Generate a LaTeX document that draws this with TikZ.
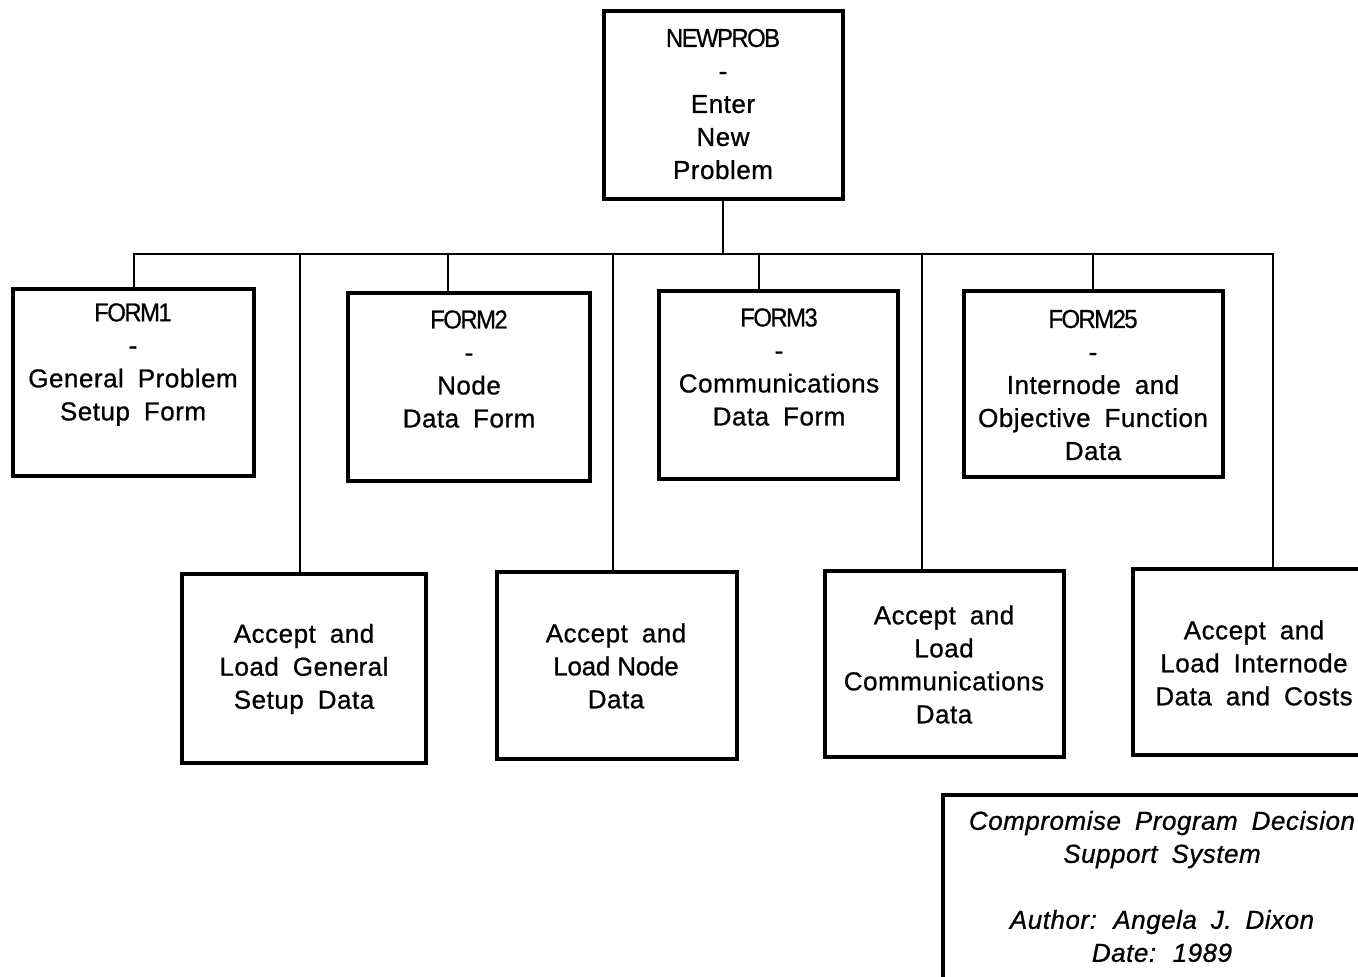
\documentclass[tikz,border=0pt]{standalone}
\usepackage{fontspec}
\setmainfont{Liberation Sans}[LetterSpace=2, WordSpace=1.8, FakeBold=0.8]
\newfontfamily\tightfont{Liberation Sans}[LetterSpace=-6, FakeStretch=0.92, FakeBold=0.6]
\newfontfamily\snugfont{Liberation Sans}[LetterSpace=-1, FakeBold=0.8]
\begin{document}
\begin{tikzpicture}[x=0.5pt, y=-0.5pt,
  box/.style={draw, line width=2pt, rectangle, inner sep=0pt},
  txt/.style={align=center, inner sep=0pt, font=\fontsize{13}{16.5}\selectfont},
  link/.style={line width=1.4pt, line join=miter}]
\useasboundingbox (0,0) rectangle (1358,976);
\clip (0,0) rectangle (1358,976);

% boxes (sizes given in pt = half the coordinate units)
\node[box, minimum width=119.5pt, minimum height=94pt]   (np)   at (723.5,105)  {};
\node[box, minimum width=120.5pt, minimum height=93.5pt] (f1)   at (133.5,382.5) {};
\node[box, minimum width=121pt,   minimum height=94pt]   (f2)   at (469,387)    {};
\node[box, minimum width=119.5pt, minimum height=94pt]   (f3)   at (778.5,385)  {};
\node[box, minimum width=129.5pt, minimum height=93pt]   (f25)  at (1093.5,384) {};
\node[box, minimum width=122pt,   minimum height=94.5pt] (a1)   at (304,668.5)  {};
\node[box, minimum width=120pt,   minimum height=93.5pt] (a2)   at (617,665.5)  {};
\node[box, minimum width=119.5pt, minimum height=93pt]   (a3)   at (944.5,664)  {};
\node[box, minimum width=121pt,   minimum height=93pt]   (a4)   at (1254,662)   {};
\node[box, minimum width=219pt,   minimum height=102.5pt] (info) at (1162,897.5) {};

% box texts
\node[txt] (tnp)  at (723,104)  {{\tightfont NEWPROB}\\-\\Enter\\New\\Problem};
\node[txt] (tf1)  at (133,364.5)  {{\tightfont FORM1}\\-\\General Problem\\Setup Form};
\node[txt] (tf2)  at (469,369)    {{\tightfont FORM2}\\-\\Node\\Data Form};
\node[txt] (tf3)  at (779,367)    {{\tightfont FORM3}\\-\\Communications\\Data Form};
\node[txt] (tf25) at (1093,385)   {{\tightfont FORM25}\\-\\Internode and\\Objective Function\\Data};
\node[txt] (ta1)  at (304,669)    {Accept and\\Load General\\Setup Data};
\node[txt] (ta2)  at (616,666)    {Accept and\\{\snugfont Load Node}\\Data};
\node[txt] (ta3)  at (944,664.5)  {Accept and\\Load\\Communications\\Data};
\node[txt] (ta4)  at (1254,663)   {Accept and\\Load Internode\\Data and Costs};
\node[txt, font=\fontsize{13}{16.5}\selectfont\itshape] (tinfo) at (1162,886.5)
  {Compromise Program Decision\\Support System\\[16.5pt]Author: Angela J. Dixon\\Date: 1989};

% bus and drop points
\coordinate (bus) at (723,254);
\coordinate (d0) at (134,254);
\coordinate (d1) at (300,254);
\coordinate (d2) at (448,254);
\coordinate (d3) at (613,254);
\coordinate (d4) at (759,254);
\coordinate (d5) at (922,254);
\coordinate (d6) at (1093,254);
\coordinate (d7) at (1273,254);

% connectors
\draw[link] (np.south -| bus) -- (bus);
\draw[link] (d0 |- f1.north) -- (d0) -- (d7) -- (d7 |- a4.north);
\draw[link] (d1) -- (d1 |- a1.north);
\draw[link] (d2) -- (d2 |- f2.north);
\draw[link] (d3) -- (d3 |- a2.north);
\draw[link] (d4) -- (d4 |- f3.north);
\draw[link] (d5) -- (d5 |- a3.north);
\draw[link] (d6) -- (d6 |- f25.north);
\end{tikzpicture}
\end{document}
